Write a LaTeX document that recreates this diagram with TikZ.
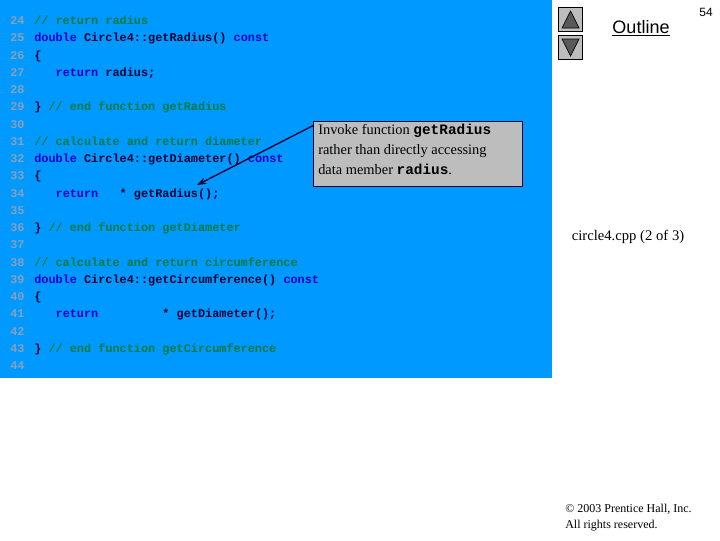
\documentclass[tikz,border=0pt]{standalone}
\usetikzlibrary{arrows.meta}
\usepackage{fontspec}
\setmainfont{Liberation Serif}
\setsansfont{Liberation Sans}
\setmonofont{Liberation Mono}
\definecolor{bg}{HTML}{0099FF}
\definecolor{kw}{HTML}{0000CC}
\definecolor{cm}{HTML}{007A3D}
\definecolor{tx}{HTML}{000033}
\definecolor{ln}{HTML}{8AA0B8}
\definecolor{boxg}{HTML}{BDBDBD}
\newcommand{\kw}[1]{\textcolor{kw}{#1}}
\newcommand{\cm}[1]{\textcolor{cm}{#1}}
\begin{document}
\begin{tikzpicture}[x=0.75pt,y=-0.75pt,
  code/.style={anchor=base west,inner sep=0pt,font=\ttfamily\bfseries\fontsize{8.9}{10}\selectfont,text=tx},
  lnum/.style={anchor=base west,inner sep=0pt,font=\ttfamily\bfseries\fontsize{8.9}{10}\selectfont,text=ln},
  btn/.style={draw=black,fill=boxg,line width=0.8pt,minimum width=18pt,minimum height=18pt,inner sep=0pt},
  tri/.style={fill=gray!70!black,draw=black,line width=0.5pt}]
\useasboundingbox (0,0) rectangle (720,540);
\fill[white] (0,0) rectangle (720,540);
\fill[bg] (0,0) rectangle (552,378);
\foreach \n [count=\i from 0] in {24,...,44}
  \node[lnum] (l\n) at (10,{24.5+\i*17.25}) {\n};
\node[code] (c24) at (34,24.5) {\cm{// return radius}};
\node[code] (c25) at (34,41.75) {\kw{double} Circle4::getRadius() \kw{const}};
\node[code] (c26) at (34,59) {\{};
\node[code] (c27) at (34,76.25) {~~~\kw{return} radius;};
\node[code] (c29) at (34,110.75) {\} \cm{// end function getRadius}};
\node[code] (c31) at (34,145.25) {\cm{// calculate and return diameter}};
\node[code] (c32) at (34,162.5) {\kw{double} Circle4::getDiameter() \kw{const}};
\node[code] (c33) at (34,179.75) {\{};
\node[code] (c34) at (34,197) {~~~\kw{return}~~~* getRadius();};
\node[code] (c36) at (34,231.5) {\} \cm{// end function getDiameter}};
\node[code] (c38) at (34,266) {\cm{// calculate and return circumference}};
\node[code] (c39) at (34,283.25) {\kw{double} Circle4::getCircumference() \kw{const}};
\node[code] (c40) at (34,300.5) {\{};
\node[code] (c41) at (34,317.75) {~~~\kw{return}~~~~~~~~~* getDiameter();};
\node[code] (c43) at (34,352.25) {\} \cm{// end function getCircumference}};
% callout
\node[draw=tx,fill=boxg,line width=0.6pt,anchor=north west,minimum width=157pt,minimum height=49pt,inner sep=0pt] (call) at (313,121) {};
\node[anchor=north west,align=left,inner sep=0pt,font=\fontsize{10.8}{15}\selectfont] (calltxt) at (318,124)
 {Invoke function {\ttfamily\bfseries getRadius}\\rather than directly accessing\\data member {\ttfamily\bfseries radius}.};
\coordinate (tip) at (197,185);
\coordinate (st) at ([yshift=-3.5pt]call.north west);
\draw[tx,line width=1pt,-{Stealth[length=7pt,width=5pt]}] (st) -- (tip);
% buttons
\node[btn,anchor=north west] (up) at (558,7) {};
\draw[tri] ([shift={(3pt,3pt)}]up.south west) -- ([shift={(-3pt,3pt)}]up.south east) -- ([yshift=-3pt]up.north) -- cycle;
\node[btn,anchor=north west] (down) at (558,35) {};
\draw[tri] ([shift={(3pt,-3pt)}]down.north west) -- ([shift={(-3pt,-3pt)}]down.north east) -- ([yshift=3pt]down.south) -- cycle;
\node[font=\sffamily\fontsize{13.5}{16}\selectfont,inner sep=0pt] (outline) at (641,28) {\underline{Outline}};
\node[font=\sffamily\fontsize{9}{10}\selectfont,inner sep=0pt] (pg) at (706,12) {54};
\node[font=\fontsize{11}{13}\selectfont,inner sep=0pt] (fname) at (628,237) {circle4.cpp (2 of 3)};
\node[anchor=north west,align=left,inner sep=0pt,font=\fontsize{9}{12}\selectfont] (copy) at (565,504) {© 2003 Prentice Hall, Inc.\\All rights reserved.};
\end{tikzpicture}
\end{document}
